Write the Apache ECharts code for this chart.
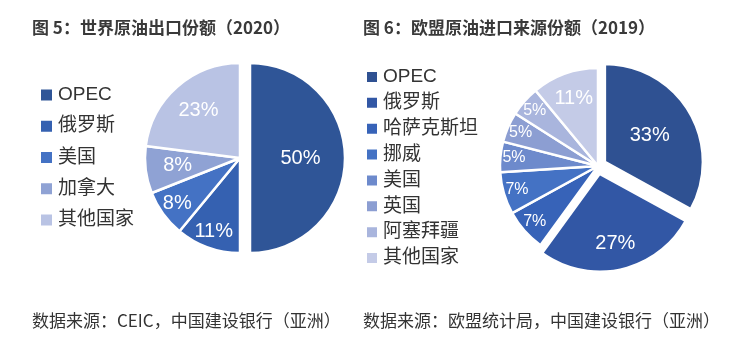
<!DOCTYPE html>
<html><head><meta charset="utf-8">
<script src="https://cdn.jsdelivr.net/npm/echarts@6/dist/echarts.min.js"></script>
<style>html,body{margin:0;padding:0;background:#fff}#c{width:750px;height:363px}</style>
</head><body><div id="c"></div>
<script>
// ---- data ----
const leftTitle = '图 5：世界原油出口份额（2020）';
const rightTitle = '图 6：欧盟原油进口来源份额（2019）';
const leftSource = '数据来源：CEIC，中国建设银行（亚洲）';
const rightSource = '数据来源：欧盟统计局，中国建设银行（亚洲）';

const leftCategories = ['OPEC', '俄罗斯', '美国', '加拿大', '其他国家'];
const leftValues = [50, 11, 8, 8, 23];

const rightCategories = ['OPEC', '俄罗斯', '哈萨克斯坦', '挪威', '美国', '英国', '阿塞拜疆', '其他国家'];
const rightValues = [33, 27, 7, 7, 5, 5, 5, 11];

// ---- style ----
const leftColors = ['#2f5597', '#3561b1', '#4472c4', '#8fa2d4', '#b9c3e4'];
const rightColors = ['#2f5192', '#3257a5', '#3763b8', '#4472c4', '#6d8acc', '#8c9ed2', '#a9b5dd', '#c4cbe7'];

const cjk = '"Noto Sans CJK SC", sans-serif';
const latin = '"Liberation Sans", "Noto Sans CJK SC", sans-serif';

function pieSeries(cfg) {
  const out = [];
  const baseData = (labelIdx, fontSize, transparent) => cfg.names.map((n, i) => ({
    name: n,
    value: cfg.values[i],
    selected: cfg.selected.includes(i),
    itemStyle: transparent ? { color: 'rgba(0,0,0,0)', borderWidth: 0 } : { color: cfg.colors[i] },
    label: { show: labelIdx.includes(i), fontSize: fontSize }
  }));
  const common = {
    type: 'pie',
    center: cfg.center,
    startAngle: 90,
    clockwise: true,
    selectedMode: 'multiple',
    selectedOffset: cfg.offset,
    animation: false,
    emphasis: { disabled: true },
    labelLine: { show: false },
    label: { position: 'inside', formatter: '{c}%', color: '#fff', fontFamily: latin }
  };
  out.push(Object.assign({}, common, {
    radius: cfg.r,
    itemStyle: { borderColor: '#fff', borderWidth: 2.5 },
    select: { itemStyle: { borderColor: '#fff', borderWidth: 2.5 } },
    data: baseData(cfg.mainLabels, cfg.bigFont, false)
  }));
  cfg.overlays.forEach(o => {
    out.push(Object.assign({}, common, {
      radius: [cfg.r * o.inner, cfg.r],
      silent: true,
      z: 5,
      itemStyle: { color: 'rgba(0,0,0,0)', borderWidth: 0 },
      select: { itemStyle: { color: 'rgba(0,0,0,0)', borderWidth: 0 } },
      data: baseData(o.labels, o.font, true)
    }));
  });
  return out;
}

const series = [].concat(
  pieSeries({
    names: leftCategories, values: leftValues, colors: leftColors,
    center: [240, 158], r: 95, offset: 10, selected: [0],
    mainLabels: [0], bigFont: 20,
    overlays: [{ inner: 0.26, labels: [3, 4], font: 20 }, { inner: 0.57, labels: [1, 2], font: 20 }]
  }),
  pieSeries({
    names: rightCategories, values: rightValues, colors: rightColors,
    center: [598, 166], r: 98, offset: 8, selected: [0, 1],
    mainLabels: [0], bigFont: 20,
    overlays: [{ inner: 0.4, labels: [1, 7], font: 20 }, { inner: 0.66, labels: [2, 3, 4, 5, 6], font: 16 }]
  })
);

const chart = echarts.init(document.getElementById('c'));
chart.setOption({
  backgroundColor: '#fff',
  animation: false,
  title: [
    { text: leftTitle, left: 32, top: 19, padding: 0, textStyle: { fontSize: 17, fontWeight: 'bold', color: '#3a3a3a', fontFamily: cjk } },
    { text: rightTitle, left: 363, top: 19, padding: 0, textStyle: { fontSize: 17, fontWeight: 'bold', color: '#3a3a3a', fontFamily: cjk } },
    { text: leftSource, left: 32, top: 312, padding: 0, textStyle: { fontSize: 17, fontWeight: 'normal', color: '#333', fontFamily: cjk } },
    { text: rightSource, left: 363, top: 312, padding: 0, textStyle: { fontSize: 17, fontWeight: 'normal', color: '#333', fontFamily: cjk } }
  ],
  legend: [
    {
      orient: 'vertical', left: 39, top: 85.5, padding: 0, icon: 'rect',
      itemWidth: 13, itemHeight: 13, itemGap: 12.25, selectedMode: false,
      textStyle: { fontSize: 19, lineHeight: 19, color: '#333', fontFamily: latin },
      data: leftCategories.map((n, i) => ({ name: n, itemStyle: { color: leftColors[i] } }))
    },
    {
      orient: 'vertical', left: 365, top: 67.5, padding: 0, icon: 'rect',
      itemWidth: 12, itemHeight: 12, itemGap: 6.86, selectedMode: false,
      textStyle: { fontSize: 19, lineHeight: 19, color: '#333', fontFamily: latin },
      data: rightCategories.map((n, i) => ({ name: n, itemStyle: { color: rightColors[i] } }))
    }
  ],
  series: series
});
</script>
</body></html>
